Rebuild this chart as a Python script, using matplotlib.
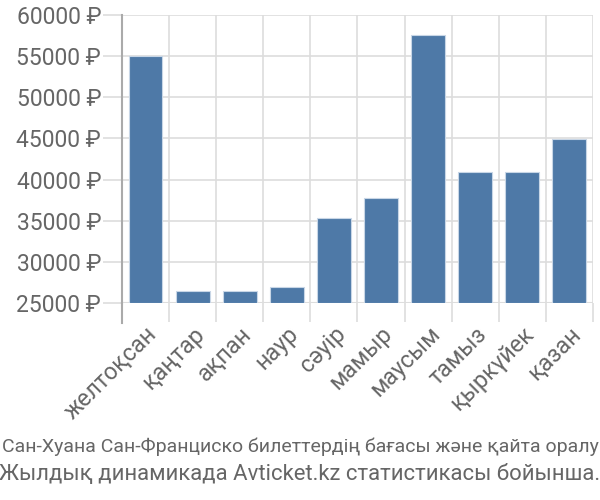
# Avticket-style monthly price bar chart (San Juan - San Francisco)

import numpy as np
import matplotlib.pyplot as plt
from matplotlib.lines import Line2D

MONTHS = ["желтоқсан", "қаңтар", "ақпан", "наур", "сәуір",
          "мамыр", "маусым", "тамыз", "қыркүйек", "қазан"]
PRICES = [55000, 26500, 26500, 27000, 35300, 37800, 57600, 40900, 40900, 44900]
Y_TICKS = [25000, 30000, 35000, 40000, 45000, 50000, 55000, 60000]
CAPTION = ["Сан-Хуана Сан-Франциско билеттердің бағасы және қайта оралу",
           "Жылдық динамикада Avticket.kz статистикасы бойынша."]

BAR = "#4e79a7"
GRID = "#dddddd"
TEXT = "#666666"

plt.rcParams["font.family"] = ["Roboto", "DejaVu Sans"]

fig = plt.figure(figsize=(6, 5), dpi=100)
ax = fig.add_axes([0.2033, 0.394, 0.785, 0.576])

x = np.arange(len(MONTHS))
base = Y_TICKS[0]
ax.bar(x, [p - base for p in PRICES], bottom=base, width=0.72,
       color=BAR, edgecolor="#c8d6e6", linewidth=0.8, zorder=3)

ax.set_xlim(-0.5, len(MONTHS) - 0.5)
ax.set_ylim(Y_TICKS[0], Y_TICKS[-1])

ax.set_yticks(Y_TICKS)
ax.set_yticklabels([f"{v} ₽" for v in Y_TICKS])
ax.set_xticks(x)
ax.set_xticklabels(MONTHS, rotation=45, ha="right", rotation_mode="anchor")
ax.set_xticks(np.arange(len(MONTHS) + 1) - 0.5, minor=True)

ax.tick_params(axis="y", length=14, width=1.2, color=GRID, labelsize=16.5,
               labelcolor=TEXT, pad=1)
ax.tick_params(axis="x", which="major", length=0, labelsize=16.8,
               labelcolor=TEXT, pad=14)
ax.tick_params(axis="x", which="minor", length=14, width=1.2, color=GRID)

ax.grid(axis="y", color=GRID, linewidth=1.2, zorder=0)
ax.grid(axis="x", which="minor", color=GRID, linewidth=1.2, zorder=0)

for side in ["top", "right", "bottom"]:
    ax.spines[side].set_visible(False)
ax.spines["left"].set_color("#aaaaaa")
ax.spines["left"].set_linewidth(1.5)
ax.add_line(Line2D([0, 0], [-0.07, 0], transform=ax.transAxes,
                   color="#aaaaaa", linewidth=1.5, clip_on=False))
ax.axhline(base, color=GRID, linewidth=1.5, zorder=2)

fig.text(0.5, 0.106, CAPTION[0], ha="center", va="center",
         fontsize=14.0, color=TEXT)
fig.text(0.5, 0.052, CAPTION[1], ha="center", va="center",
         fontsize=15.9, color=TEXT)

fig.savefig("out.png", dpi=100)
